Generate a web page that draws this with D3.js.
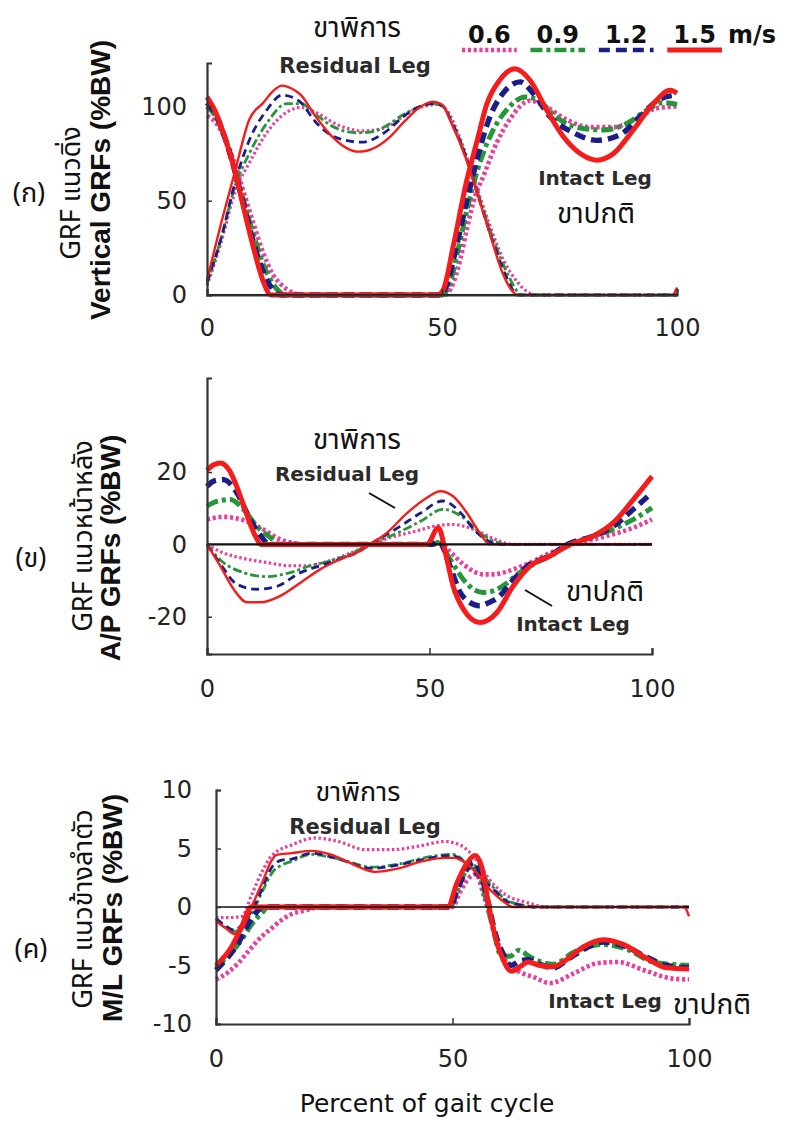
<!DOCTYPE html>
<html><head><meta charset="utf-8">
<script src="https://cdn.jsdelivr.net/npm/d3@7"></script>
<style>body{margin:0;background:#fff}</style>
</head><body>
<svg id="c" width="788" height="1122" xmlns="http://www.w3.org/2000/svg"></svg>
<script>
// ---------- data ----------
const speeds = ["0.6", "0.9", "1.2", "1.5"];
const speedUnit = "m/s";
const xTickValues = [0, 50, 100];

// Panel (ก) vertical GRF, [percent gait cycle, %BW]
const vertRes06 = [[0,5],[3,28],[6,55],[9,70],[12.7,86],[17,97],[20,99.5],[23,97],[28,90],[33,87],[36,87.5],[39,90],[43,97],[47,100.5],[49,101],[51,98],[54,82],[57,60],[60,38],[63,19],[66,7],[68,2],[70,0],[100,0]];
const vertRes09 = [[0,6],[3,30],[6,58],[9,75],[12.7,91],[17,101.5],[20,101.5],[23,96],[27,89],[32,86],[35,86.5],[38,89.5],[42,96],[46,100.5],[48,101.5],[50,100.5],[52,92],[55,74],[58,51],[61,29],[64,11],[67,0],[100,0]];
const vertRes12 = [[0,7],[3,30],[6,60],[9,82],[12.7,98],[16,106],[18,105],[20,102],[23,92],[28,83],[33,81],[38,86.5],[42,95],[46,100.5],[48,101.5],[50,100.5],[52,92],[55,74],[58,50],[61,27],[64,8],[66,0],[100,0]];
const vertRes15 = [[0,8],[3,38],[6,66],[9,93],[12,102],[14,108],[16,111],[18,109.5],[20,106],[23,95],[27,83],[30,77.5],[32,76],[34,76.5],[36,78.5],[39,84],[42,92],[45,99],[48,102.5],[50,101],[52,91],[55,73],[57.5,54],[60,34],[63,11],[65,2],[66,0],[99,0],[100,4]];
const vertInt06 = [[0,95],[2,91],[4,82],[6,69],[8,53],[10,37],[12,22],[14,11],[16,5],[18,1.5],[20,0],[50.5,0],[52,4],[54,20],[55.3,35],[57,52],[58.8,63],[61.6,80.5],[64.4,93],[68.7,103],[72.3,99.5],[76.5,93],[81.5,89],[86.5,89],[91.4,93.5],[95.7,99],[100,100]];
const vertInt09 = [[0,100],[2,94],[4,82],[6,66],[8,48],[10,31],[12,16],[14,6],[17,0],[50,0],[51.5,5],[53.5,25],[55.3,45],[57.4,65],[60.9,87.5],[63.7,98],[67.8,105],[70.6,103],[74.2,94.5],[79.4,88.5],[84.4,87.5],[89.4,91],[93.6,98],[97,102],[100,101]];
const vertInt12 = [[0,102],[2,95],[4,82],[6,65],[8,46],[10,27],[12,12],[14,3],[15.8,0],[49.5,0],[51,5],[53,25],[55.3,50],[57.4,71.5],[60.2,94.5],[63,107],[66.6,113],[69.4,107],[73,94.5],[78,86],[82.9,82],[87.9,85],[92.1,94.5],[96.4,104],[100,106]];
const vertInt15 = [[0,105],[2,96],[4,82],[6,65],[8,44],[10,24],[12,7],[13.6,0],[49,0],[50.3,3],[52.4,26],[55.3,61],[57.4,81],[59.5,101],[62.3,114],[65.5,120],[68.7,114],[72.3,98],[75.8,84],[79.4,75],[82.9,71.5],[86.5,75],[90.7,87.5],[95,101.5],[98.5,108.5],[100,107]];
const vertTicks = [0, 50, 100];

// Panel (ข) anterior/posterior GRF
const apRes06 = [[0,0],[3,-2],[8.2,-3.9],[13.4,-5],[18.7,-5.9],[22.4,-5.9],[26.9,-4.8],[32,-2.5],[35.8,-0.6],[40.4,1.6],[46.4,3.5],[52.4,5.3],[55.3,5.5],[60,4.1],[64.4,1.6],[68.9,0],[100,0]];
const apRes09 = [[0,0],[3,-4.3],[8.2,-7.8],[13.4,-8.9],[18.7,-7.8],[23.2,-5.9],[28,-4.5],[32,-2.8],[36.6,0],[43.4,3.5],[48,6.4],[53,9.7],[57.6,7.4],[61.3,3.2],[65.9,0.3],[67,0],[100,0]];
const apRes12 = [[0,0],[3,-5.4],[6.7,-11],[11.2,-12.4],[15.7,-11.6],[21,-7.8],[25.4,-5.9],[30,-4],[34.4,-1.8],[36.6,0],[43.4,5],[48,8.7],[53,12],[57,8.7],[60,4.1],[64.4,0.3],[65.5,0],[100,0]];
const apRes15 = [[0,0],[3,-6],[6,-12.4],[9,-16],[12,-16],[16.4,-14.3],[21,-10.6],[25.4,-6.9],[30,-4.1],[34.4,-1.8],[36.6,0],[40.4,3.2],[45,8.7],[49.4,12.9],[52.4,14.7],[55.3,13.3],[58.4,8.7],[61.3,3.2],[63.5,0],[100,0]];
const apInt06 = [[0,6.9],[3.7,7.6],[8.2,6.7],[12.7,4.1],[16.4,1.4],[19.8,0.3],[21,0],[51,0],[52.5,0.3],[54.6,-2],[57.6,-5.5],[60,-7.5],[62.1,-8.3],[64.5,-8.3],[66.5,-7.8],[71.8,-5.5],[77.8,-2],[82.3,0],[89.8,2.3],[95.8,4.6],[100,6.9]];
const apInt09 = [[0,10.6],[2,11.8],[5.2,12.4],[8.2,9.7],[11.2,5],[14.9,1.2],[16,0],[50.5,0],[52,0.5],[54.6,-4.1],[57.6,-9.7],[60,-12.5],[62.1,-13.3],[64.5,-12.8],[66.5,-11.5],[70.3,-7.8],[74,-5],[78,-2.5],[81.5,0],[86.8,2.2],[91.3,4.2],[95.8,6.9],[100,10.1]];
const apInt12 = [[0,16],[1.5,17.5],[3.7,17.9],[6.7,14.3],[9.7,6.9],[12,2.5],[14,0],[50.5,0],[52,1],[54.6,-6],[56.9,-13.3],[59,-16],[61.3,-17],[63.5,-16],[65.8,-14.3],[68,-11],[72,-6],[77,-3.2],[81,0],[86.8,2.3],[91.3,5],[95.8,9.7],[100,14.3]];
const apInt15 = [[0,20.5],[1.5,22],[3,22.5],[5,20.5],[7,15],[9,8],[11,2],[12.1,0],[49.4,0],[52,4.6],[53.9,-4.1],[55.3,-11.5],[57.6,-17.9],[61.3,-21.6],[65.1,-18.9],[68.8,-11.5],[72.6,-6],[77.1,-3.2],[81.6,0],[86.8,2.3],[91.3,6],[95.8,12.4],[100,18.8]];
const apTicks = [-20, 0, 20];

// Panel (ค) medio-lateral GRF
const mlRes06 = [[0,-0.9],[3,-0.9],[5.5,-0.8],[7.5,1],[9.7,3],[11.8,4.4],[16,5.3],[21,5.9],[25.9,5.6],[31.5,4.9],[37.2,4.9],[42.8,5.2],[48.4,5.6],[51.6,5.3],[55.1,4],[57.9,2.3],[61.4,1],[65.6,0.4],[70,0],[100,0]];
const mlRes09 = [[0,-1],[2,-1.7],[4,-2.1],[6,-1.4],[8,-0.2],[10,1.5],[12,3],[14,3.6],[16,3.9],[20,4.5],[26,4.1],[33,3.4],[39,3.7],[44,4.2],[50,4.5],[52,4.1],[53.5,3.3],[55,3.3],[57.9,2],[61.4,0.6],[65.6,0.1],[67,0],[100,0]];
const mlRes12 = [[0,-1],[2,-1.6],[4,-2],[6,-1.2],[8,0],[10,1.8],[11.8,3.4],[13.9,4],[16,4.1],[20.2,4.6],[25.9,4.1],[32.9,3.3],[38.6,3.6],[44.2,4.1],[49.8,4.4],[52,4],[54,3.2],[56,2.4],[57.9,1.8],[61.4,0.5],[65.6,0.1],[67,0],[100,0]];
const mlRes15 = [[0,-1.2],[2,-1.8],[4,-2.3],[5.4,-2],[7.5,0],[9.7,2],[11.8,4],[12.8,4.45],[16,4.6],[20.2,4.8],[24.5,4.45],[28.7,3.7],[33.6,3],[38.6,3.3],[43.5,3.9],[48.4,4.2],[50.2,4.2],[53,3.7],[55.1,2.9],[57.9,1.5],[60.7,0.5],[62.8,0],[99,0],[100,-0.8]];
const mlInt06 = [[0,-6.2],[2.5,-5.6],[4.7,-4.8],[7,-3.7],[9.7,-2.5],[11.8,-1.8],[13.9,-1.1],[16,-0.6],[18.8,-0.3],[22,0],[50,0],[51.5,1.2],[53.5,2.5],[55,2.8],[56.6,1],[58.7,-1.9],[60.7,-4.2],[63.6,-5.4],[67.2,-6],[70.6,-6.5],[75.5,-5.7],[80.7,-4.8],[84.9,-4.7],[90.5,-5.4],[96.2,-6.1],[100,-6.2]];
const mlInt09 = [[0,-5.2],[2.5,-4.2],[5.4,-2.8],[7.5,-1.5],[9.7,-0.5],[11,0],[49.5,0],[51,1.4],[53,3.2],[54.3,3.5],[55.7,2.8],[57.3,0.3],[58.8,-2.2],[60.3,-4.2],[62.2,-4.2],[64,-3.7],[66.5,-4.3],[71.3,-4.9],[75.5,-3.9],[81.9,-3.2],[86.8,-3.6],[92.4,-4.7],[100,-5]];
const mlInt12 = [[0,-5.4],[2.5,-4.3],[4.7,-3.1],[6.5,-1.7],[8.2,-0.6],[10,0],[49.5,0],[51,1.5],[53,3.2],[54.5,3.8],[56,2.8],[57.6,0.3],[59,-2.2],[60.7,-4],[62.3,-5],[64.3,-4.6],[66,-4.5],[68.5,-4.9],[71.3,-5.2],[75,-4.3],[81.9,-3],[86.1,-3.3],[91.1,-4.3],[95.3,-5],[100,-5.2]];
const mlInt15 = [[0,-5],[3.3,-3.4],[5.4,-1.7],[7.5,0],[49,0],[50.9,2],[53,3.7],[54.8,4.4],[56.2,3.4],[57.6,0.3],[59,-2.5],[60.7,-4.5],[62.5,-5.5],[64.3,-5.1],[66,-4.7],[68.5,-5],[71.3,-5.1],[74.1,-4.5],[77.7,-3.4],[81.9,-2.8],[86.1,-3.2],[91.1,-4.4],[95.3,-5.2],[100,-5.3]];
const mlTicks = [-10, -5, 0, 5, 10];

// ---------- styles ----------
const colors = ["#ea3f9b", "#27963a", "#1b1e86", "#f51c1c"];
const dashThin = ["2.5,2.5", "9,3,3,3", "8,5", null];
const dashThick = ["3.2,2.6", "12,4,4,4", "11,6", null];
const wThin = [3.2, 2.8, 2.8, 2.4];
const wThick = [4.6, 5, 5.4, 5];

const FONT_NUM = "'DejaVu Sans', sans-serif";
const FONT_THAI = "'Noto Sans Thai', 'Noto Sans', 'DejaVu Sans', sans-serif";
const svg = d3.select("#c");
const fmt = d => String(d); // plain hyphen minus like the reference

function drawPanel(cfg) {
  const x = d3.scaleLinear().domain([0, 100]).range(cfg.xr);
  const y = d3.scaleLinear().domain(cfg.yd).range(cfg.yr);
  const g = svg.append("g");
  const line = d3.line().x(d => x(d[0])).y(d => y(d[1])).curve(d3.curveMonotoneX);

  for (let i = 0; i < 4; i++) {
    g.append("path").datum(cfg.res[i]).attr("d", line)
      .attr("fill", "none").attr("stroke", colors[i]).attr("stroke-width", wThin[i])
      .attr("stroke-dasharray", dashThin[i]).attr("stroke-linejoin", "round");
    g.append("path").datum(cfg.int[i]).attr("d", line)
      .attr("fill", "none").attr("stroke", colors[i]).attr("stroke-width", wThick[i])
      .attr("stroke-dasharray", dashThick[i]).attr("stroke-linejoin", "round");
  }

  g.append("line").attr("x1", x(0)).attr("x2", x(100)).attr("y1", y(0)).attr("y2", y(0))
    .attr("stroke", "#111").attr("stroke-width", cfg.zeroW);

  const ya = d3.axisLeft(y).tickValues(cfg.ticks).tickSize(-5).tickPadding(cfg.tickPad).tickFormat(fmt);
  const yg = g.append("g").attr("transform", `translate(${cfg.xr[0]},0)`).call(ya);
  yg.select(".domain").attr("stroke", "#333").attr("stroke-width", 2.2);
  yg.selectAll(".tick line").attr("stroke", "#333").attr("stroke-width", 1.5);
  yg.selectAll("text").attr("font-family", FONT_NUM).attr("font-size", 24).attr("fill", "#222");

  const xa = d3.axisBottom(x).tickValues(xTickValues).tickSize(-6).tickPadding(0).tickFormat(fmt);
  const xg = g.append("g").attr("transform", `translate(0,${y(cfg.yd[0])})`).call(xa);
  xg.select(".domain").attr("stroke", "#333").attr("stroke-width", 2.2);
  xg.selectAll(".tick line").attr("stroke", "#333").attr("stroke-width", 1.5);
  xg.selectAll("text").attr("font-family", FONT_NUM).attr("font-size", 24).attr("fill", "#222")
    .attr("dy", null).attr("y", cfg.xLabelDy);

  const t1 = cfg.title1;
  svg.append("text").attr("transform", `translate(${t1.x},${t1.y}) rotate(-90)`)
    .attr("text-anchor", "middle").attr("font-family", FONT_THAI).attr("font-size", 27)
    .attr("fill", "#111").text(t1.text);
  const t2 = cfg.title2;
  svg.append("text").attr("transform", `translate(${t2.x},${t2.y}) rotate(-90)`)
    .attr("text-anchor", "middle").attr("font-family", "'Liberation Sans', Arial, sans-serif")
    .attr("font-weight", "bold").attr("font-size", 28).attr("fill", "#111").text(t2.text);
  svg.append("text").attr("x", cfg.tag.x).attr("y", cfg.tag.y).attr("text-anchor", "middle")
    .attr("font-family", FONT_THAI).attr("font-size", 27).attr("fill", "#111").text(cfg.tag.text);

  cfg.notes.forEach(n => {
    svg.append("text").attr("x", n.x).attr("y", n.y).attr("text-anchor", "middle")
      .attr("font-family", n.thai ? FONT_THAI : FONT_NUM)
      .attr("font-weight", n.thai ? "normal" : "bold")
      .attr("font-size", n.size).attr("fill", n.thai ? "#111" : "#2b2b2b").text(n.text);
  });
  (cfg.leaders || []).forEach(l => {
    svg.append("line").attr("x1", l[0]).attr("y1", l[1]).attr("x2", l[2]).attr("y2", l[3])
      .attr("stroke", "#111").attr("stroke-width", 2);
  });
}

drawPanel({
  xr: [207, 677], yd: [0, 123], yr: [295, 63], ticks: vertTicks, tickPad: 20, zeroW: 2.2, xLabelDy: 41,
  res: [vertRes06, vertRes09, vertRes12, vertRes15],
  int: [vertInt06, vertInt09, vertInt12, vertInt15],
  title1: {x: 80, y: 193, text: "GRF แนวดิ่ง"},
  title2: {x: 110, y: 180, text: "Vertical GRFs (%BW)"},
  tag: {x: 29, y: 202, text: "(ก)"},
  notes: [
    {x: 357, y: 37, text: "ขาพิการ", thai: true, size: 28},
    {x: 355, y: 73, text: "Residual Leg", size: 21},
    {x: 595, y: 185, text: "Intact Leg", size: 20},
    {x: 596, y: 223, text: "ขาปกติ", thai: true, size: 28}
  ]
});

drawPanel({
  xr: [207, 652], yd: [-30.3, 46], yr: [654, 378], ticks: apTicks, tickPad: 20, zeroW: 2.2, xLabelDy: 43,
  res: [apRes06, apRes09, apRes12, apRes15],
  int: [apInt06, apInt09, apInt12, apInt15],
  title1: {x: 92, y: 536, text: "GRF แนวหน้าหลัง"},
  title2: {x: 120, y: 548, text: "A/P GRFs (%BW)"},
  tag: {x: 31, y: 567, text: "(ข)"},
  notes: [
    {x: 357, y: 449, text: "ขาพิการ", thai: true, size: 28},
    {x: 347, y: 481, text: "Residual Leg", size: 20},
    {x: 605, y: 601, text: "ขาปกติ", thai: true, size: 28},
    {x: 573, y: 631, text: "Intact Leg", size: 20}
  ],
  leaders: [[369, 493, 395, 508], [525, 590, 552, 606]]
});

drawPanel({
  xr: [216, 689], yd: [-10, 10], yr: [1024, 790], ticks: mlTicks, tickPad: 24, zeroW: 1.6, xLabelDy: 43,
  res: [mlRes06, mlRes09, mlRes12, mlRes15],
  int: [mlInt06, mlInt09, mlInt12, mlInt15],
  title1: {x: 92, y: 909, text: "GRF แนวข้างลำตัว"},
  title2: {x: 122, y: 908, text: "M/L GRFs (%BW)"},
  tag: {x: 31, y: 958, text: "(ค)"},
  notes: [
    {x: 358, y: 801, text: "ขาพิการ", thai: true, size: 27},
    {x: 365, y: 834, text: "Residual Leg", size: 21},
    {x: 605, y: 1008, text: "Intact Leg", size: 20},
    {x: 712, y: 1014, text: "ขาปกติ", thai: true, size: 28}
  ]
});

svg.append("text").attr("x", 427).attr("y", 1112).attr("text-anchor", "middle")
  .attr("font-family", FONT_NUM).attr("font-size", 25).attr("fill", "#111").text("Percent of gait cycle");

const legX = d3.scaleBand().domain(speeds).range([462, 722]).paddingInner(0.2);
const leg = svg.append("g");
speeds.forEach((s, i) => {
  const cx = legX(s) + legX.bandwidth() / 2;
  leg.append("text").attr("x", cx).attr("y", 43).attr("text-anchor", "middle")
    .attr("font-family", FONT_NUM).attr("font-weight", "bold").attr("font-size", 24).attr("fill", "#111").text(s);
  leg.append("line").attr("x1", legX(s)).attr("x2", legX(s) + legX.bandwidth()).attr("y1", 50).attr("y2", 50)
    .attr("stroke", colors[i]).attr("stroke-width", i === 3 ? 5 : 4.5).attr("stroke-dasharray", dashThick[i]);
});
leg.append("text").attr("x", 752).attr("y", 43).attr("text-anchor", "middle")
  .attr("font-family", FONT_NUM).attr("font-weight", "bold").attr("font-size", 24).attr("fill", "#111").text(speedUnit);
</script></body></html>
